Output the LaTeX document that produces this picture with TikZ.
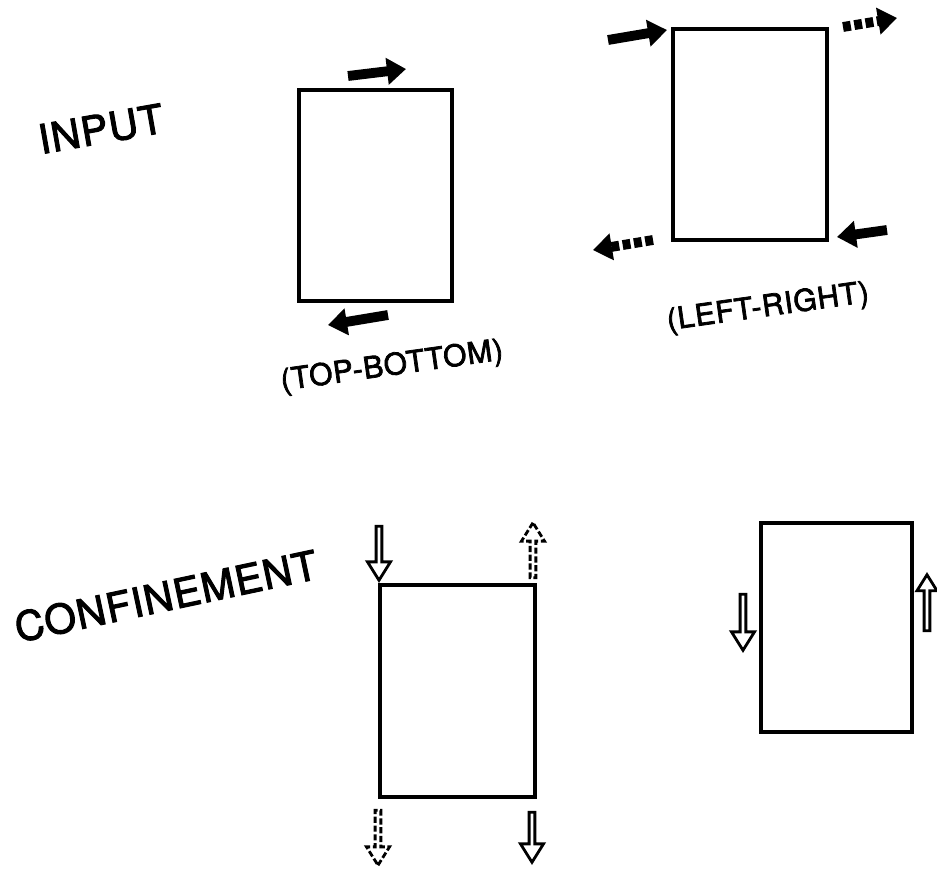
\documentclass[tikz,border=0pt]{standalone}
\usepackage{fontspec}
\setmainfont{TeX Gyre Heros}
\newfontfamily\lettering{TeX Gyre Heros}[FakeBold=2.5, LetterSpace=3]
\usetikzlibrary{arrows.meta, shapes.arrows}

\begin{document}
\begin{tikzpicture}[
  x=0.02cm, y=-0.02cm,
  sheet/.style={rectangle, draw, line width=2.4pt, inner sep=0pt},
  label/.style={font=\lettering\fontsize{17}{20}\selectfont},
  heading/.style={font=\lettering\fontsize{23}{28}\selectfont},
  push/.style={line width=5.6pt, -{Triangle[length=0.38cm, width=0.52cm]}},
  pushdash/.style={push, dash pattern=on 4.5pt off 2pt},
  hollow/.style={single arrow, draw, line width=1.6pt, inner sep=0pt, minimum width=0.46cm, single arrow head extend=0.085cm, single arrow tip angle=64},
  hollowdash/.style={hollow, dash pattern=on 3.5pt off 1.5pt}
]
\useasboundingbox (0,0) rectangle (937,872);
% headings
\node[heading, rotate=10] (input) at (101,129) {INPUT};
\node[heading, rotate=12] (confine) at (166,596) {CONFINEMENT};
% input, top-bottom
\node[sheet, minimum width=3.06cm, minimum height=4.22cm] (tb) at (375.5,195.5) {};
\coordinate (tbTopS) at (348,76);
\coordinate (tbTopE) at (406,69);
\coordinate (tbBotS) at (388,315);
\coordinate (tbBotE) at (328,325);
\draw[push] (tbTopS) -- (tbTopE);
\draw[push] (tbBotS) -- (tbBotE);
\node[label, rotate=8] (tbName) at (392,367) {(TOP-BOTTOM)};
% input, left-right
\node[sheet, minimum width=3.08cm, minimum height=4.22cm] (lr) at (750,134.5) {};
\coordinate (lrInS) at (608,40);
\coordinate (lrInE) at (667,30);
\coordinate (lrOutS) at (843,27);
\coordinate (lrOutE) at (897,18);
\coordinate (lrBackS) at (887,230);
\coordinate (lrBackE) at (837,237);
\coordinate (lrLeftS) at (653,240);
\coordinate (lrLeftE) at (593,250);
\draw[push] (lrInS) -- (lrInE);
\draw[pushdash] (lrOutS) -- (lrOutE);
\draw[push] (lrBackS) -- (lrBackE);
\draw[pushdash] (lrLeftS) -- (lrLeftE);
\node[label, rotate=8] (lrName) at (768,308) {(LEFT-RIGHT)};
% confinement
\node[sheet, minimum width=3.10cm, minimum height=4.24cm] (cfA) at (457.5,691) {};
\node[hollow, shape border rotate=270, minimum height=1.08cm] (cfA1) at (379,551) {};
\node[hollowdash, shape border rotate=90, minimum height=1.10cm] (cfA2) at (533,552.5) {};
\node[hollowdash, shape border rotate=270, minimum height=1.10cm] (cfA3) at (378,835.5) {};
\node[hollow, shape border rotate=270, minimum height=1.00cm] (cfA4) at (532,835) {};
\node[sheet, minimum width=3.02cm, minimum height=4.18cm] (cfB) at (836.5,627.5) {};
\node[hollow, shape border rotate=270, minimum height=1.12cm] (cfB1) at (743,620) {};
\node[hollow, shape border rotate=90, minimum height=1.12cm, minimum width=0.40cm, single arrow head extend=0.07cm] (cfB2) at (927,605) {};
\end{tikzpicture}
\end{document}
